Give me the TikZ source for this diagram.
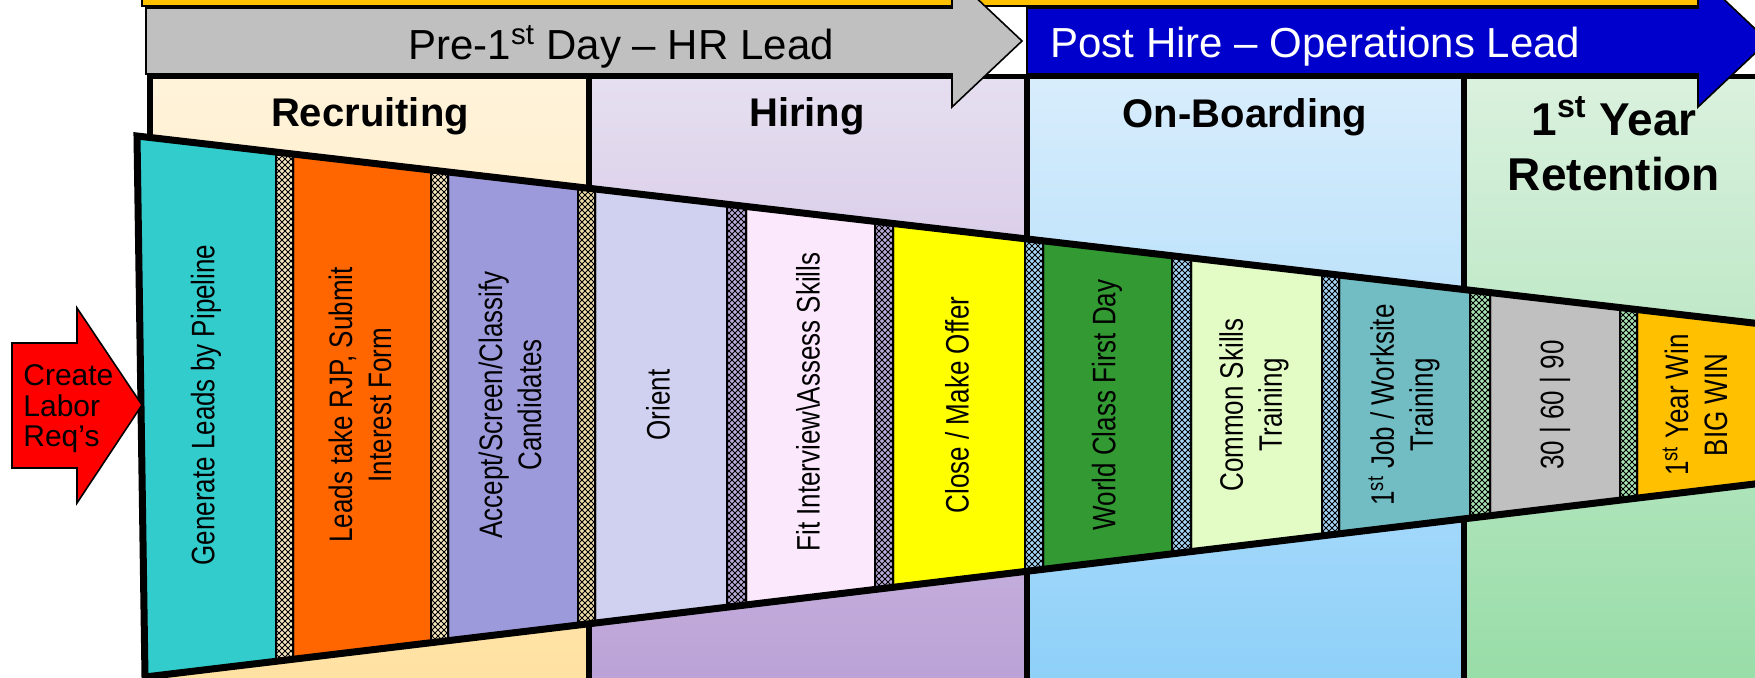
\documentclass[tikz,border=0pt]{standalone}
\usepackage{fontspec}
\setmainfont{Liberation Sans}
\usepackage{tikz}
\usetikzlibrary{shapes,arrows,backgrounds,patterns,positioning,calc}

\definecolor{topbar}{HTML}{FFC000}
\definecolor{hrgray}{HTML}{C0C0C0}
\definecolor{opsblue}{HTML}{0000CC}
\definecolor{createred}{HTML}{FF0000}
\definecolor{recrtop}{HTML}{FFF3DA}
\definecolor{recrbot}{HTML}{FFE1A0}
\definecolor{hiretop}{HTML}{E6DFF0}
\definecolor{hirebot}{HTML}{BAA0D6}
\definecolor{onbtop}{HTML}{D8EDFC}
\definecolor{onbbot}{HTML}{8CCFF9}
\definecolor{rettop}{HTML}{DAF1DE}
\definecolor{retbot}{HTML}{96DCA6}
\definecolor{tealbox}{HTML}{33CCCC}
\definecolor{orangebox}{HTML}{FF6600}
\definecolor{purplebox}{HTML}{9D9ADC}
\definecolor{orientbox}{HTML}{D0D0F0}
\definecolor{fitbox}{HTML}{FCE8FC}
\definecolor{closebox}{HTML}{FFFF00}
\definecolor{worldbox}{HTML}{339933}
\definecolor{commonbox}{HTML}{E3FBC5}
\definecolor{jobbox}{HTML}{72BDC4}
\definecolor{daysbox}{HTML}{C0C0C0}
\definecolor{winbox}{HTML}{FFC000}
\definecolor{seprecr}{HTML}{F6E6BE}
\definecolor{sepmix}{HTML}{EEDCA8}
\definecolor{sephire}{HTML}{B9A9D9}
\definecolor{seponb}{HTML}{A6D6F6}
\definecolor{sepret}{HTML}{A6E2B2}

\tikzset{
  stagetext/.style={rotate=90, yscale=1.25, align=center, inner sep=0pt, font=\fontsize{13}{15.6}\selectfont},
  phasetitle/.style={anchor=base, inner sep=0pt, font=\fontsize{20}{24}\selectfont\bfseries},
  leadtext/.style={anchor=base west, inner sep=0pt, font=\fontsize{21}{25}\selectfont},
  outline/.style={draw=black, line width=0.8pt},
}

\begin{document}
\begin{tikzpicture}[x=0.5pt,y=-0.5pt,
  declare function={ftop(\t)=136+0.1157*(\t-137); fbot(\t)=677-0.1199*(\t-145);}]
	\useasboundingbox (0,0) rectangle (1755,678);
	\clip (0,0) rectangle (1755,678);
	\fill[white] (0,0) rectangle (1755,678);

	% phase panels
	\foreach \xa/\xb/\ct/\cb in {150/589/recrtop/recrbot, 589/1027/hiretop/hirebot,
		1027/1464/onbtop/onbbot, 1464/1800/rettop/retbot}
		\shade[top color=\ct, bottom color=\cb] (\xa,77) rectangle (\xb,700);
	\draw[line width=2.5pt] (147,77) -- (1800,77);
	\foreach \xp in {150,589,1027,1464}
		\draw[line width=3pt] (\xp,77) -- (\xp,700);

	% lead arrows
	\draw[outline, fill=topbar] (142,-30) rectangle (1700,6);
	\draw[outline, fill=hrgray] (146,8) -- (952,8) -- (952,-25) -- (1022,41)
		-- (952,107) -- (952,74) -- (146,74) -- cycle;
	\draw[outline, fill=opsblue] (1027,8) -- (1698,8) -- (1698,-25) -- (1768,41)
		-- (1698,107) -- (1698,74) -- (1027,74) -- cycle;
	\node (prelead) [leadtext] at (408,60) {Pre-1\textsuperscript{st} Day – HR Lead};
	\node (postlead) [leadtext, text=white] at (1050,58) {Post Hire – Operations Lead};

	\node (recruiting) [phasetitle] at (370,127) {Recruiting};
	\node (hiring) [phasetitle] at (807,127) {Hiring};
	\node (onboarding) [phasetitle] at (1245,128) {On-Boarding};
	\node (retention) [align=center, inner sep=0pt, font=\fontsize{23}{27.5}\selectfont\bfseries]
		at (1614,144) {1\textsuperscript{st} Year\\Retention};

	% funnel
	\fill[tealbox] (137,136) -- (1800,{ftop(1800)}) -- (1800,{fbot(1800)}) -- (145,677) -- cycle;
	\foreach \xa/\xb/\col in {293/431/orangebox, 448/578/purplebox, 595/727/orientbox,
		746/875/fitbox, 893/1025/closebox, 1043/1172/worldbox, 1191/1322/commonbox,
		1339/1470/jobbox, 1490/1620/daysbox, 1637/1800/winbox}
		\filldraw[fill=\col, line width=1pt] (\xa,{ftop(\xa)}) -- (\xb,{ftop(\xb)})
			-- (\xb,{fbot(\xb)}) -- (\xa,{fbot(\xa)}) -- cycle;
	\foreach \xa/\xb/\col in {276/293/seprecr, 431/448/seprecr, 578/595/sepmix,
		727/746/sephire, 875/893/sephire, 1025/1043/seponb, 1172/1191/seponb,
		1322/1339/seponb, 1470/1490/sepret, 1620/1637/sepret}
	{
		\fill[\col] (\xa,{ftop(\xa)}) -- (\xb,{ftop(\xb)}) -- (\xb,{fbot(\xb)}) -- (\xa,{fbot(\xa)}) -- cycle;
		\fill[pattern=north east lines] (\xa,{ftop(\xa)}) -- (\xb,{ftop(\xb)}) -- (\xb,{fbot(\xb)}) -- (\xa,{fbot(\xa)}) -- cycle;
		\fill[pattern=north west lines] (\xa,{ftop(\xa)}) -- (\xb,{ftop(\xb)}) -- (\xb,{fbot(\xb)}) -- (\xa,{fbot(\xa)}) -- cycle;
		\draw[line width=1pt] (\xa,{ftop(\xa)}) -- (\xb,{ftop(\xb)}) -- (\xb,{fbot(\xb)}) -- (\xa,{fbot(\xa)}) -- cycle;
	}
	\draw[line width=3.5pt, line join=miter] (1800,{ftop(1800)}) -- (137,136) -- (145,677) -- (1800,{fbot(1800)});

	\node (generate) [stagetext] at (206,405) {Generate Leads by Pipeline};
	\node (rjp) [stagetext] at (360,405) {Leads take RJP, Submit\\Interest Form};
	\node (screen) [stagetext] at (510,405) {Accept/Screen/Classify\\Candidates};
	\node (orient) [stagetext] at (658,405) {Orient};
	\node (fit) [stagetext] at (808,402) {Fit Interview{\char"5C}Assess Skills};
	\node (close) [stagetext] at (957,405) {Close / Make Offer};
	\node (firstday) [stagetext] at (1107,405) {World Class First Day};
	\node (common) [stagetext] at (1254,405) {Common Skills\\Training};
	\node (worksite) [stagetext] at (1404,405) {1\textsuperscript{st} Job / Worksite\\Training};
	\node (days) [stagetext] at (1555,405) {30 \textbar{} 60 \textbar{} 90};
	\node (win) [stagetext] at (1695,405) {1\textsuperscript{st} Year Win\\BIG WIN};

	% labor request arrow
	\draw[outline, fill=createred] (12,343) -- (77,343) -- (77,308) -- (142,405)
		-- (77,503) -- (77,468) -- (12,468) -- cycle;
	\node (create) [anchor=west, align=left, inner sep=0pt, font=\fontsize{15}{15.25}\selectfont]
		at (23,409) {Create\\Labor\\Req’s};
\end{tikzpicture}
\end{document}
